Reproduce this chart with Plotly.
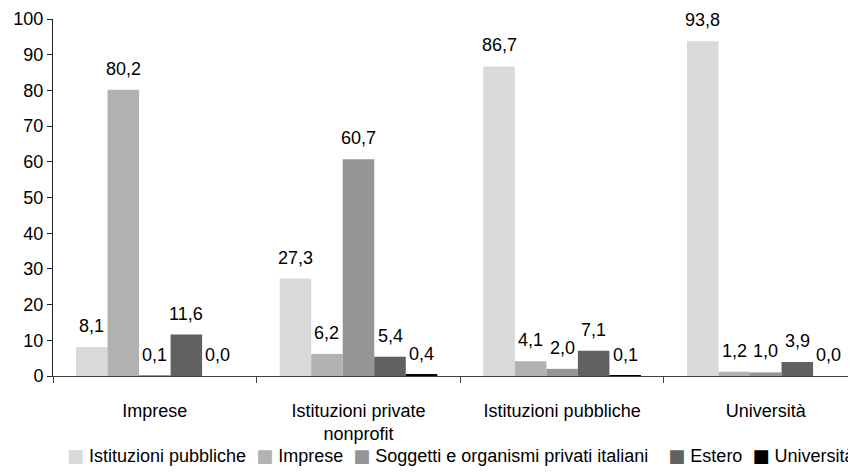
import plotly.graph_objects as go

categories = ["Imprese", "Istituzioni private<br>nonprofit", "Istituzioni pubbliche", "Università"]
series_names = ["Istituzioni pubbliche", "Imprese", "Soggetti e organismi privati italiani", "Estero", "Università"]
istituzioni_pubbliche = [8.1, 27.3, 86.7, 93.8]
imprese = [80.2, 6.2, 4.1, 1.2]
soggetti_privati = [0.1, 60.7, 2.0, 1.0]
estero = [11.6, 5.4, 7.1, 3.9]
universita = [0.0, 0.4, 0.1, 0.0]
series_values = [istituzioni_pubbliche, imprese, soggetti_privati, estero, universita]
colors = ["#d9d9d9", "#b2b2b2", "#969696", "#616161", "#000000"]
y_ticks = [0, 10, 20, 30, 40, 50, 60, 70, 80, 90, 100]

FONT = "Liberation Sans, Arial, sans-serif"
FS = 18
BARGAP = 0.226

fig = go.Figure()
for name, vals, col in zip(series_names, series_values, colors):
    fig.add_trace(go.Bar(
        x=categories, y=vals, name=name,
        marker=dict(color=col, line=dict(width=0)),
        hoverinfo="skip", showlegend=False,
    ))

n = len(series_names)
bw = (1 - BARGAP) / n
annotations = []
for j, vals in enumerate(series_values):
    for i, v in enumerate(vals):
        annotations.append(dict(
            x=i - (1 - BARGAP) / 2 + (j + 0.5) * bw,
            y=v, xref="x", yref="y",
            text=f"{v:.1f}".replace(".", ","),
            showarrow=False, yanchor="bottom", yshift=9,
            font=dict(family=FONT, size=FS, color="#000000"),
        ))

# legend built as a single line of text with coloured squares
gaps = ["  ", "  ", "    ", "  ", ""]
legend_text = "".join(
    f"<span style='color:{c}; font-family:DejaVu Sans'>■</span> {nm}{g}"
    for nm, c, g in zip(series_names, colors, gaps)
)
annotations.append(dict(
    x=0.508, y=-0.2216, xref="paper", yref="paper",
    xanchor="center", yanchor="middle", showarrow=False,
    text=legend_text, font=dict(family=FONT, size=FS, color="#000000"),
))

# page body has an 8px default margin, so the figure is sized to fit the window
fig.update_layout(
    width=848, height=467,
    margin=dict(l=45, r=0, t=11, b=99, autoexpand=False),
    paper_bgcolor="white", plot_bgcolor="white",
    barmode="group", bargap=BARGAP, bargroupgap=0,
    font=dict(family=FONT, size=FS, color="#000000"),
    showlegend=False,
    annotations=annotations,
)
fig.update_xaxes(
    type="category", range=[-0.5, 3.443], automargin=False,
    showline=True, linecolor="#404040", linewidth=1,
    ticks="outside", tickson="boundaries", ticklen=6, tickcolor="#404040",
    ticklabelstandoff=18, showgrid=False, zeroline=False,
    tickfont=dict(family=FONT, size=FS),
)
fig.update_yaxes(
    range=[0, 100], tickvals=y_ticks, automargin=False,
    showline=True, linecolor="#202020", linewidth=1,
    ticks="outside", ticklen=5, tickcolor="#202020",
    showgrid=False, zeroline=False,
    tickfont=dict(family=FONT, size=FS),
)

fig.write_html("out.html")
